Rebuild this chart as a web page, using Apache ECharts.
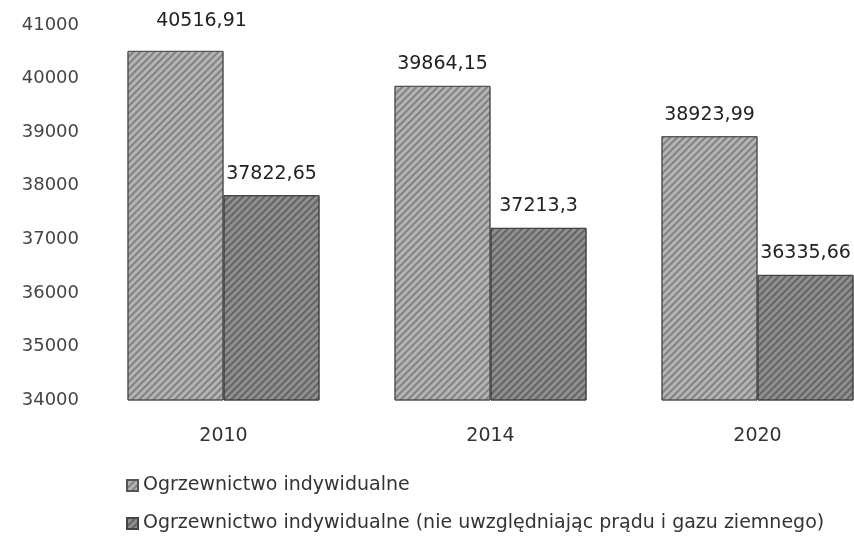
<!DOCTYPE html>
<html lang="pl">
  <head>
    <meta charset="UTF-8" />
    <title>Ogrzewnictwo indywidualne</title>
    <script src="https://cdn.jsdelivr.net/npm/echarts@6/dist/echarts.min.js"></script>
    <style>
      html, body { margin: 0; padding: 0; background: #fff; }
      #main { width: 854px; height: 536px; }
    </style>
  </head>
  <body>
    <div id="main"></div>
    <script>
      // dane
      var years = ["2010", "2014", "2020"];
      var seriesNames = [
        "Ogrzewnictwo indywidualne",
        "Ogrzewnictwo indywidualne (nie uwzględniając prądu i gazu ziemnego)"
      ];
      var valuesAll = [40516.91, 39864.15, 38923.99];
      var valuesNoGas = [37822.65, 37213.3, 36335.66];
      var yMin = 34000, yMax = 41000, yStep = 1000;

      function fmt(v) {
        return String(v).replace(".", ",");
      }

      // faktura słupków
      function hatch(alpha) {
        return {
          color: "rgba(0,0,0," + alpha + ")",
          dashArrayX: [1, 0],
          dashArrayY: [2, 3],
          rotation: -Math.PI / 4
        };
      }

      var labelStyle = {
        show: true,
        position: "top",
        distance: 12,
        fontFamily: "DejaVu Sans",
        fontSize: 19,
        color: "#222",
        formatter: function (p) { return fmt(p.value); }
      };

      var legendBase = {
        left: 121,
        itemWidth: 11,
        itemHeight: 11,
        icon: "rect",
        textStyle: { fontFamily: "DejaVu Sans", fontSize: 19, color: "#333" }
      };

      var chart = echarts.init(document.getElementById("main"));
      chart.setOption({
        animation: false,
        grid: { left: 90, top: 25, width: 801, height: 375, outerBoundsMode: "none" },
        legend: [
          Object.assign({ top: 471, data: [seriesNames[0]] }, legendBase),
          Object.assign({ top: 509, data: [seriesNames[1]] }, legendBase)
        ],
        xAxis: {
          type: "category",
          data: years,
          axisLine: { show: false },
          axisTick: { show: false },
          axisLabel: {
            margin: 27,
            fontFamily: "DejaVu Sans",
            fontSize: 19,
            color: "#333"
          }
        },
        yAxis: {
          type: "value",
          min: yMin,
          max: yMax,
          interval: yStep,
          splitLine: { show: false },
          axisLine: { show: false },
          axisTick: { show: false },
          axisLabel: {
            margin: 11,
            fontFamily: "DejaVu Sans",
            fontSize: 18,
            color: "#444",
            formatter: function (v) { return String(v); }
          }
        },
        series: [
          {
            name: seriesNames[0],
            type: "bar",
            barWidth: 96,
            barGap: "0%",
            data: valuesAll.map(function (v, i) {
              return i === 0 ? { value: v, label: { offset: [26, -8] } } : v;
            }),
            itemStyle: {
              color: "#b4b4b4",
              borderColor: "#555",
              borderWidth: 1,
              decal: hatch(0.28)
            },
            label: labelStyle
          },
          {
            name: seriesNames[1],
            type: "bar",
            barWidth: 96,
            barGap: "0%",
            data: valuesNoGas,
            itemStyle: {
              color: "#8f8f8f",
              borderColor: "#444",
              borderWidth: 1,
              decal: hatch(0.3)
            },
            label: labelStyle
          }
        ]
      });
    </script>
  </body>
</html>
